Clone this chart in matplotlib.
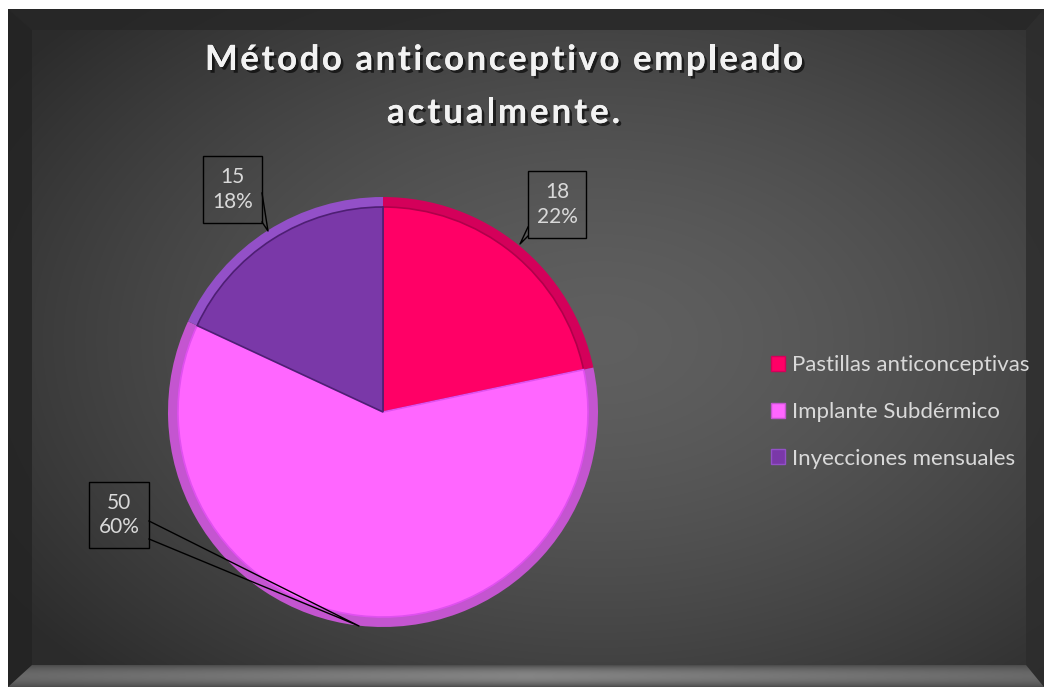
import numpy as np
import matplotlib.pyplot as plt
import matplotlib.patches as ptc
import matplotlib.patheffects as pe

# data
categorias = ['Pastillas anticonceptivas', 'Implante Subdérmico', 'Inyecciones mensuales']
valores = [18, 50, 15]
colores = ['#FF0066', '#FF66FF', '#7A38A8']
bordes = ['#D4005A', '#C455D0', '#9350C8']
titulo = ['Método anticonceptivo empleado', 'actualmente.']

W, H = 1044, 687

def Y(y):
    # image row -> data y
    return H - y

fig = plt.figure(figsize=(W / 100, H / 100), dpi=100)
fig.patch.set_facecolor('white')
ax = fig.add_axes([0, 0, 1, 1])
ax.set_xlim(0, W)
ax.set_ylim(0, H)

# fondo con degradado radial
xx, yy = np.meshgrid(np.arange(8, W), np.arange(9, H))
r = np.sqrt(((xx - 600) / 720.0) ** 2 + ((yy - 340) / 470.0) ** 2)
g = 0.375 - (0.375 - 0.17) * np.clip(r, 0, 1) ** 1.5
img = np.dstack([g, g, g])
ax.imshow(img, extent=(8, W, Y(H), Y(9)), origin='upper', zorder=0, interpolation='bilinear')

# marco biselado
x0, x1, y0, y1 = 8, W, 9, H
i0, i1, j0, j1 = 32, 1026, 30, 665
top = ptc.Polygon([(x0, Y(y0)), (x1, Y(y0)), (i1, Y(j0)), (i0, Y(j0))], closed=True,
                  facecolor='#262626', edgecolor='none', alpha=0.8, zorder=1)
left = ptc.Polygon([(x0, Y(y0)), (i0, Y(j0)), (i0, Y(j1)), (x0, Y(y1))], closed=True,
                   facecolor='#232323', edgecolor='none', alpha=0.8, zorder=1)
right = ptc.Polygon([(x1, Y(y0)), (i1, Y(j0)), (i1, Y(j1)), (x1, Y(y1))], closed=True,
                    facecolor='#2c2c2c', edgecolor='none', alpha=0.8, zorder=1)
for p in (top, left, right):
    ax.add_patch(p)
bottom = ptc.Polygon([(x0, Y(y1)), (i0, Y(j1)), (i1, Y(j1)), (x1, Y(y1))], closed=True,
                     facecolor='none', edgecolor='none', zorder=1)
ax.add_patch(bottom)
bx, by = np.meshgrid(np.linspace(0, 1, 300), np.linspace(0, 1, 30))
bv = 0.30 + 0.22 * np.sin(np.pi * by) ** 0.8 * (1 - 0.5 * np.abs(bx - 0.5) * 2)
bg = ax.imshow(np.dstack([bv, bv, bv]), extent=(x0, x1, Y(y1), Y(j1)), origin='upper',
               zorder=1, interpolation='bilinear')
bg.set_clip_path(bottom)

# pastel
cx, cy, rad = 383, Y(412), 215
w_out, _ = ax.pie(valores, colors=bordes, startangle=90, counterclock=False,
                  radius=rad, center=(cx, cy), frame=False,
                  wedgeprops=dict(edgecolor='none'))
w_in, _ = ax.pie(valores, colors=colores, startangle=90, counterclock=False,
                 radius=rad - 10, center=(cx, cy), frame=False,
                 wedgeprops=dict(edgecolor='none'))
for w in w_out:
    w.set_zorder(3)
for w, c in zip(w_in, ['#B0004A', '#E050F0', '#4E1F74']):
    w.set_zorder(4)
    w.set_edgecolor(c)
    w.set_linewidth(1.2)

# etiquetas de datos
total = sum(valores)
etiquetas = ['%d\n%d%%' % (v, round(100.0 * v / total)) for v in valores]
cajas = [(528, 171, 586, 238), (89, 482, 149, 548), (203, 156, 262, 223)]
lineas = [[(528, 227), (520, 244), (528, 236)],
          [(149, 521), (359, 626), (149, 539)],
          [(262, 193), (268, 231), (262, 222)]]
for et, (a, b, c, d), ln in zip(etiquetas, cajas, lineas):
    ax.add_patch(ptc.Rectangle((a, Y(d)), c - a, d - b, facecolor='none',
                               edgecolor='black', linewidth=1.0, zorder=6))
    ax.plot([p[0] for p in ln], [Y(p[1]) for p in ln], color='black', lw=1.0, zorder=6)
    ax.text((a + c) / 2, Y((b + d) / 2), et, ha='center', va='center', color='#d9d9d9',
            fontsize=15, family=['Lato', 'DejaVu Sans'], linespacing=1.3, zorder=7)

# titulo con espaciado entre letras
fs_tit = 25
renderer = fig.canvas.get_renderer()
sombra = [pe.withSimplePatchShadow(offset=(2, -2), shadow_rgbFace='black', alpha=0.6), pe.Normal()]
for linea, (xa, xb), yc in zip(titulo, [(205, 803), (387, 620)], [60, 113]):
    anchos = []
    for ch in linea:
        t = ax.text(0, 0, ch, fontsize=fs_tit, fontweight='bold', family='Lato')
        anchos.append(t.get_window_extent(renderer).width if ch != ' ' else None)
        t.remove()
    t = ax.text(0, 0, 'a a', fontsize=fs_tit, fontweight='bold', family='Lato')
    t2 = ax.text(0, 0, 'aa', fontsize=fs_tit, fontweight='bold', family='Lato')
    esp = t.get_window_extent(renderer).width - t2.get_window_extent(renderer).width
    t.remove()
    t2.remove()
    anchos = [esp if a is None else a for a in anchos]
    extra = ((xb - xa) - sum(anchos)) / (len(linea) - 1)
    x = xa
    for ch, a in zip(linea, anchos):
        ax.text(x, Y(yc), ch, ha='left', va='center', color='#f2f2f2', fontsize=fs_tit,
                fontweight='bold', family='Lato', zorder=7, path_effects=sombra)
        x += a + extra

# leyenda
handles = [ptc.Patch(facecolor=c, edgecolor=b, linewidth=1) for c, b in zip(colores, bordes)]
leg = ax.legend(handles, categorias, loc='center left', bbox_to_anchor=(751 / W, 1 - 412 / H),
                frameon=False, labelspacing=1.2, handlelength=0.65,
                handleheight=0.65, handletextpad=0.3, prop=dict(family='Lato', size=16))
for t in leg.get_texts():
    t.set_color('#d9d9d9')

ax.set_xlim(0, W)
ax.set_ylim(0, H)
ax.axis('off')
fig.savefig('out.png', dpi=100, facecolor='white')
